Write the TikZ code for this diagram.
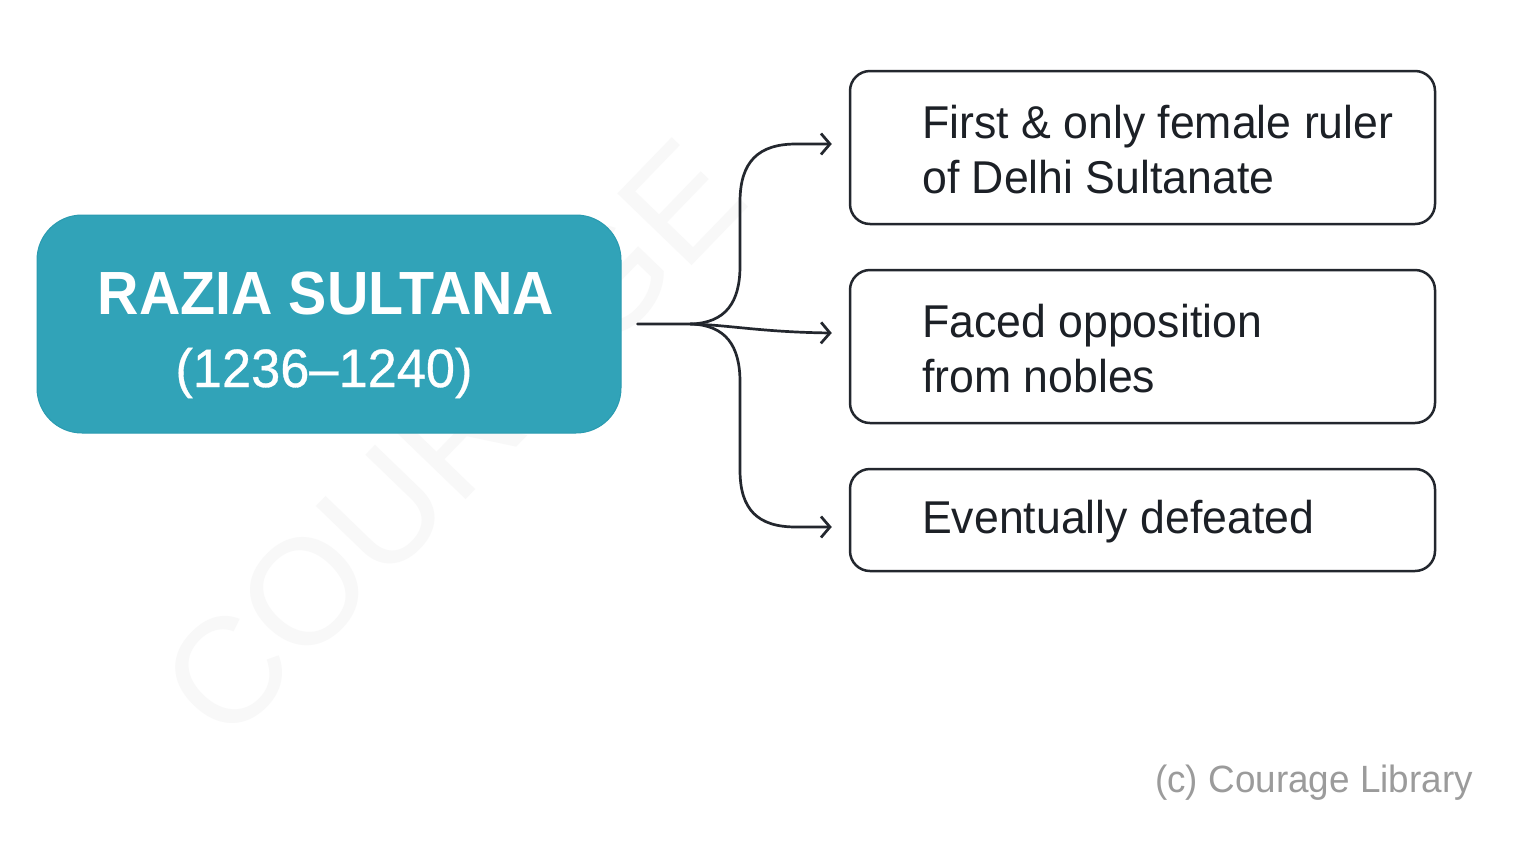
\documentclass[tikz,border=0pt]{standalone}
\usepackage{fontspec}
\usetikzlibrary{arrows.meta,calc}
\setmainfont{Liberation Sans}
\newfontfamily\bodyfont[FakeStretch=0.97]{Liberation Sans}
\newfontfamily\titlefont[FakeStretch=0.94]{Liberation Sans}
\newfontfamily\datefont[FakeStretch=0.97,FakeBold=0.6]{Liberation Sans}
\newfontfamily\wmfont{Liberation Sans}
\definecolor{teal1}{HTML}{31A3B8}
\definecolor{teal2}{HTML}{2A9BB0}
\definecolor{ink}{HTML}{23272E}
\definecolor{txt}{HTML}{1C2026}
\definecolor{foot}{HTML}{9B9B9B}
\definecolor{wm}{HTML}{F8F8F8}
\tikzset{
  mainbox/.style={draw=teal2, line width=1pt, fill=teal1, rounded corners=45pt,
    minimum width=584pt, minimum height=218pt, inner sep=0pt},
  infobox/.style={draw=ink, line width=2.5pt, fill=white, rounded corners=20pt,
    minimum width=585pt, inner sep=0pt},
  bodytext/.style={anchor=west, align=left, text=txt, inner sep=0pt,
    font=\bodyfont\fontsize{46}{55}\selectfont},
  conn/.style={draw=ink, line width=2.7pt, line cap=round, line join=round,
    -{Straight Barb[length=9pt,width=21pt,line width=2.7pt]}},
}
\begin{document}
\begin{tikzpicture}[x=1pt,y=-1pt]
\useasboundingbox (0,0) rectangle (1536,847);
\fill[white] (0,0) rectangle (1536,847);
% watermark
\node[rotate=46, anchor=base west, inner sep=0pt, text=wm,
  font=\wmfont\fontsize{150}{150}\selectfont] (wmark) at (226,748) {COURAGE};
% main node
\node[mainbox] (main) at (329,324) {};
\node[text=white, inner sep=0pt, anchor=base,
  font=\titlefont\bfseries\fontsize{61}{61}\selectfont] (title) at (326,314) {RAZIA SULTANA};
\node[text=white, inner sep=0pt, anchor=base,
  font=\datefont\fontsize{54}{54}\selectfont] (dates) at (324,387) {(1236–1240)};
% info boxes
\node[infobox, minimum height=153pt] (b1) at (1142.5,147.5) {};
\node[infobox, minimum height=153pt] (b2) at (1142.5,346.5) {};
\node[infobox, minimum height=102pt] (b3) at (1142.5,520) {};
\node[bodytext] (t1) at (922,150) {First \& only female ruler\\of Delhi Sultanate};
\node[bodytext] (t2) at (922,349) {Faced opposition\\from nobles};
\node[bodytext] (t3) at (922,522) {Eventually defeated};
% connectors
\coordinate (src) at ($(main.east)+(16,0)$);
\coordinate (fork) at ($(src)+(53,0)$);
\draw[conn] (src) -- (fork) .. controls (726,323) and (740,302) .. (740,266)
  -- (740,202) .. controls (740,162) and (758,144) .. (796,144)
  -- ([xshift=-17pt,yshift=3.5pt]b1.west);
\draw[conn] (fork) .. controls (730,325) and (760,332) .. ([xshift=-17pt,yshift=13.5pt]b2.west);
\draw[conn] (fork) .. controls (726,325) and (740,346) .. (740,382)
  -- (740,470) .. controls (740,510) and (758,527) .. (796,527)
  -- ([xshift=-17pt,yshift=-7pt]b3.west);
% footer
\node[anchor=base east, inner sep=0pt, text=foot,
  font=\bodyfont\fontsize{38}{38}\selectfont] (footer) at (1473,792) {(c) Courage Library};
\end{tikzpicture}
\end{document}
